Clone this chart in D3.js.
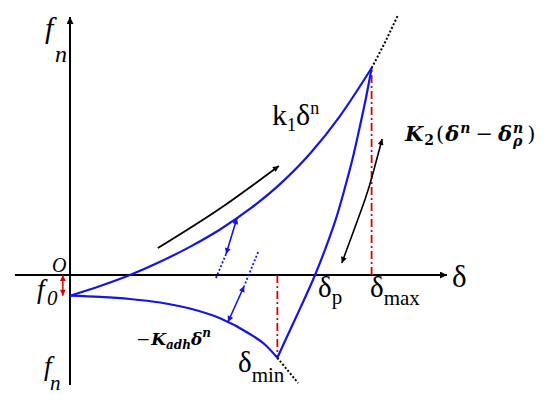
<!DOCTYPE html>
<html>
<head>
<meta charset="utf-8">
<script src="https://cdn.jsdelivr.net/npm/d3@7"></script>
<style>
  body { margin: 0; background: #fff; }
  text { font-family: "Liberation Serif", "Times New Roman", serif; fill: #000; }
  text.math { font-family: "DejaVu Serif", serif; }
</style>
</head>
<body>
<div id="chart"></div>
<script>
// key points of the force-displacement loop (schematic units)
var f0 = -10, deltaMax = 80, fMax = 100, deltaP = 65, deltaMin = 55, fMin = -40;

// loading branch  f0 + k1 δ^n
var loadDelta = [0, 8, 15.9, 23.9, 31.8, 39.8, 47.7, 55.7, 63.7, 71.6, 80];
var loadF     = [-10, -5.3, 0, 6.4, 13.6, 22.0, 31.9, 43.9, 58.7, 76.8, 100];
// unloading branch  K2(δ^n - δp^n), from the peak down to δmin
var unloadDelta = [80, 78.5, 76.8, 75.0, 72.9, 70.6, 67.8, 65, 61.1, 57.4, 55];
var unloadF     = [100, 85.5, 71.0, 56.5, 42.0, 27.5, 13.0, 0, -15.9, -30.4, -40];
// adhesion branch  -Kadh δ^n
var adhDelta = [0, 8, 15.9, 23.9, 31.8, 39.8, 47.7, 51.7, 55];
var adhF     = [-10, -10.6, -11.6, -13.3, -16.2, -20.9, -28.5, -33.6, -40];
// dotted continuations
var extUpDelta = [80, 83.6, 87];
var extUpF     = [100, 112.6, 125.6];
var extLowDelta = [55, 60.5];
var extLowF     = [-40, -52.2];
// black direction arrows
var arrLoadDelta = [23.3, 39.3, 55.4];
var arrLoadF     = [13.0, 31.5, 52.7];
var arrUnDelta = [82.8, 80.6, 78.2, 72.1];
var arrUnF     = [65.7, 50.7, 36.2, 5.8];
// blue switching arrows
var blueADelta = [44.3, 41.4], blueAF = [27.5, 10.1];
var blueADotDelta = [41.4, 38.5], blueADotF = [10.1, -2.4];
var blueBDotDelta = [49.9, 46.2], blueBDotF = [11.1, -5.3];
var blueBDelta = [46.2, 41.9], blueBF = [-5.3, -22.7];
// axis extents
var axisDelta = [-14.6, 100];
var axisF = [-53.1, 124.6];

var W = 550, H = 406;
var blue = "#1414e6", red = "#dd0000";

var x = d3.scaleLinear().domain([0, 100]).range([70, 447]);
var y = d3.scaleLinear().domain([0, 100]).range([275, 68]);

var svg = d3.select("#chart").append("svg")
    .attr("width", W).attr("height", H);

var defs = svg.append("defs");
function marker(id, color, len, wid) {
  defs.append("marker")
      .attr("id", id)
      .attr("viewBox", "0 0 10 10")
      .attr("refX", 10).attr("refY", 5)
      .attr("markerUnits", "userSpaceOnUse")
      .attr("markerWidth", len).attr("markerHeight", wid)
      .attr("orient", "auto-start-reverse")
    .append("path")
      .attr("d", "M0,0 L10,5 L0,10 z")
      .attr("fill", color);
}
marker("arrBlack", "#000", 9, 7);
marker("arrBlackS", "#000", 8, 6);
marker("arrBlue", blue, 7, 6);
marker("arrRed", red, 7, 6);

function pts(ds, fs) { return ds.map(function(d, i) { return [d, fs[i]]; }); }
var line = d3.line().x(function(d) { return x(d[0]); }).y(function(d) { return y(d[1]); });
function curved(c) { return d3.line().x(function(d) { return x(d[0]); }).y(function(d) { return y(d[1]); }).curve(c); }
var smoothX = curved(d3.curveMonotoneX);
var smoothY = curved(d3.curveMonotoneY);
var smooth = curved(d3.curveNatural);

// axes
svg.append("line")
    .attr("x1", x(axisDelta[0])).attr("x2", x(axisDelta[1]))
    .attr("y1", y(0)).attr("y2", y(0))
    .attr("stroke", "#000").attr("stroke-width", 2)
    .attr("marker-end", "url(#arrBlack)");
svg.append("line")
    .attr("x1", x(0)).attr("x2", x(0))
    .attr("y1", y(axisF[0])).attr("y2", y(axisF[1]))
    .attr("stroke", "#000").attr("stroke-width", 2)
    .attr("marker-end", "url(#arrBlack)");

// red dash-dot guides
svg.append("line")
    .attr("x1", x(deltaMax)).attr("x2", x(deltaMax))
    .attr("y1", y(0)).attr("y2", y(fMax))
    .attr("stroke", red).attr("stroke-width", 1.8)
    .attr("stroke-dasharray", "8,3,2,3");
svg.append("line")
    .attr("x1", x(deltaMin)).attr("x2", x(deltaMin))
    .attr("y1", y(0)).attr("y2", y(fMin))
    .attr("stroke", red).attr("stroke-width", 1.8)
    .attr("stroke-dasharray", "8,3,2,3");

// f0 offset arrow
svg.append("line")
    .attr("x1", x(-1.9)).attr("x2", x(-1.9))
    .attr("y1", y(0)).attr("y2", y(f0))
    .attr("stroke", red).attr("stroke-width", 1.5)
    .attr("marker-start", "url(#arrRed)")
    .attr("marker-end", "url(#arrRed)");

// dotted continuations
[[extUpDelta, extUpF], [extLowDelta, extLowF]].forEach(function(s) {
  svg.append("path")
      .attr("d", smooth(pts(s[0], s[1])))
      .attr("fill", "none").attr("stroke", "#000")
      .attr("stroke-width", 2).attr("stroke-dasharray", "2,2");
});

// the three branches
svg.append("path").attr("d", smoothX(pts(loadDelta, loadF)))
    .attr("fill", "none").attr("stroke", blue).attr("stroke-width", 2.2);
svg.append("path").attr("d", smoothY(pts(unloadDelta, unloadF)))
    .attr("fill", "none").attr("stroke", blue).attr("stroke-width", 2.2);
svg.append("path").attr("d", smoothX(pts(adhDelta, adhF)))
    .attr("fill", "none").attr("stroke", blue).attr("stroke-width", 2.2);

// blue switching arrows
svg.append("path").attr("d", line(pts(blueADelta, blueAF)))
    .attr("stroke", blue).attr("stroke-width", 1.6).attr("fill", "none")
    .attr("marker-start", "url(#arrBlue)").attr("marker-end", "url(#arrBlue)");
svg.append("path").attr("d", line(pts(blueBDelta, blueBF)))
    .attr("stroke", blue).attr("stroke-width", 1.6).attr("fill", "none")
    .attr("marker-start", "url(#arrBlue)").attr("marker-end", "url(#arrBlue)");
[[blueADotDelta, blueADotF], [blueBDotDelta, blueBDotF]].forEach(function(s) {
  svg.append("path").attr("d", line(pts(s[0], s[1])))
      .attr("stroke", blue).attr("stroke-width", 1.8).attr("fill", "none")
      .attr("stroke-dasharray", "2,2");
});

// black direction arrows
svg.append("path").attr("d", smooth(pts(arrLoadDelta, arrLoadF)))
    .attr("stroke", "#000").attr("stroke-width", 1.8).attr("fill", "none")
    .attr("marker-end", "url(#arrBlackS)");
svg.append("path").attr("d", smooth(pts(arrUnDelta, arrUnF)))
    .attr("stroke", "#000").attr("stroke-width", 1.6).attr("fill", "none")
    .attr("marker-start", "url(#arrBlackS)").attr("marker-end", "url(#arrBlackS)");

// text helper: pieces follow each other; "at" forces x, "stack" sits under the previous piece
function label(x0, y0, parts, base) {
  var cx = x0, lastX = x0, lastW = 0;
  parts.forEach(function(p) {
    var px = (p.at !== undefined) ? p.at : (p.stack ? lastX : cx);
    var t = svg.append("text")
        .attr("class", base.cls || null)
        .attr("x", px).attr("y", y0 + (p.dy || 0))
        .attr("font-size", p.size || base.size)
        .attr("font-style", p.style || base.style || "normal")
        .attr("font-weight", p.weight || base.weight || "normal")
        .text(p.t);
    var w = t.node().getComputedTextLength();
    if (p.stack) { cx = px + Math.max(w, lastW); }
    else { lastX = px; lastW = w; cx = px + w; }
    cx += (p.gap || 0);
  });
}

// axis labels
label(45, 38, [{t: "f"}], {size: 30, style: "italic"});
label(55, 62, [{t: "n"}], {size: 24, style: "italic"});
label(52, 272, [{t: "O"}], {size: 20, style: "italic"});
label(37, 298, [{t: "f"}, {t: "0", at: 47, dy: 7, size: 21}], {size: 27, style: "italic"});
label(44, 375, [{t: "f"}, {t: "n", at: 50, dy: 15, size: 21}], {size: 27, style: "italic"});
label(452, 287, [{t: "δ"}], {size: 31});

label(318, 297, [{t: "δ"}, {t: "p", dy: 7, size: 21}], {size: 29});
label(370, 297, [{t: "δ"}, {t: "max", dy: 8, size: 21}], {size: 29});
label(238, 372, [{t: "δ"}, {t: "min", dy: 10, size: 21}], {size: 29});

label(272, 125, [{t: "k"}, {t: "1", dy: 6, size: 18}, {t: "δ"}, {t: "n", dy: -11, size: 18}], {size: 30});

label(405, 141, [
  {t: "K", gap: 1}, {t: "2", dy: 4, size: 14, style: "normal", gap: 2},
  {t: "(", style: "normal", weight: "normal", gap: 1},
  {t: "δ", gap: 1}, {t: "n", dy: -8, size: 14, gap: 5},
  {t: "−", style: "normal", weight: "normal", gap: 5},
  {t: "δ", gap: 1}, {t: "n", dy: -8, size: 14}, {t: "ρ", dy: 5, size: 14, stack: true, gap: 4},
  {t: ")", style: "normal", weight: "normal"}
], {size: 21, style: "italic", weight: "bold", cls: "math"});

label(136, 345, [
  {t: "−", style: "normal", weight: "normal", gap: 1},
  {t: "K"}, {t: "adh", dy: 4, size: 12}, {t: "δ"}, {t: "n", dy: -8, size: 12}
], {size: 17, style: "italic", weight: "bold", cls: "math"});
</script>
</body>
</html>
